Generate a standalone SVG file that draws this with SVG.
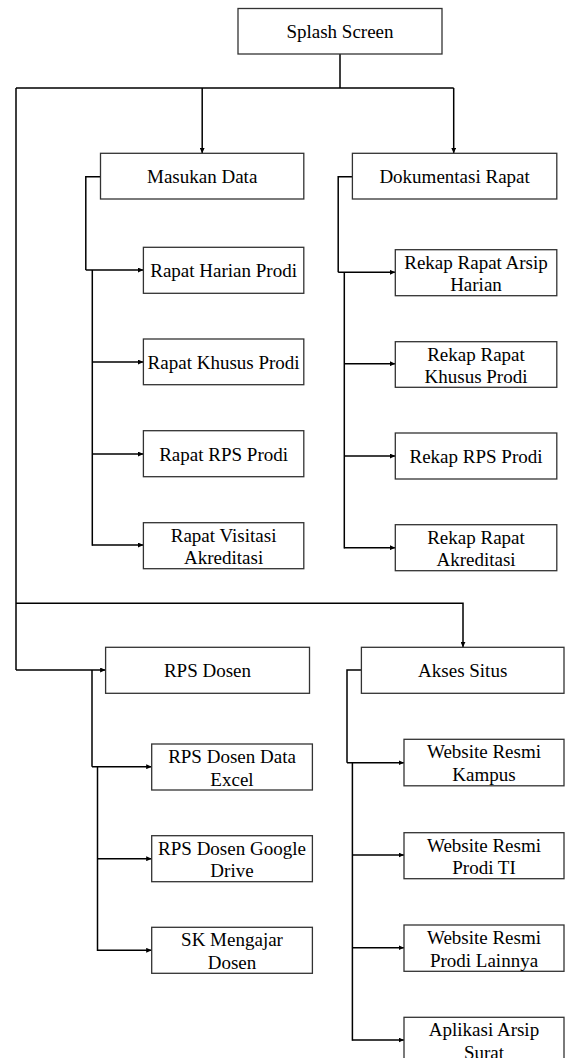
<svg xmlns="http://www.w3.org/2000/svg" width="565" height="1058" viewBox="0 0 565 1058">
  <style>
    .box rect { fill: #ffffff; stroke: #333333; stroke-width: 1.3; }
    .box text { font-family: "Liberation Serif", "Times New Roman", serif; font-size: 19px; fill: #000000; text-anchor: middle; }
    .wire { fill: none; stroke: #000000; stroke-width: 1.5; }
    .arrow { marker-end: url(#head); }
  </style>
  <defs>
    <marker id="head" markerUnits="userSpaceOnUse" markerWidth="6" markerHeight="5" refX="5.5" refY="2.5" orient="auto">
      <path d="M0,0 L5.5,2.5 L0,5 z" fill="#000000"/>
    </marker>
  </defs>

  <!-- connectors -->
  <g id="connectors">
    <!-- trunk from the splash screen -->
    <path class="wire" d="M340,54 V88 M16,88 H453.7 M16,88 V670"/>
    <path class="wire arrow" d="M202.2,88 V153.3"/>
    <path class="wire arrow" d="M453.7,88 V153.3"/>
    <path class="wire arrow" d="M16,603.3 H463 V647.3"/>
    <path class="wire arrow" d="M16,670 H105.6"/>

    <!-- Masukan Data branch -->
    <path class="wire" d="M100.5,176.7 H85.8 V270"/>
    <path class="wire arrow" d="M85.8,270 H143.4"/>
    <path class="wire" d="M92.3,270 V545.7"/>
    <path class="wire arrow" d="M92.3,362 H143.4"/>
    <path class="wire arrow" d="M92.3,454 H143.4"/>
    <path class="wire arrow" d="M92.3,545 H143.4"/>

    <!-- Dokumentasi Rapat branch -->
    <path class="wire" d="M352.4,176.7 H338.2 V272.3"/>
    <path class="wire arrow" d="M338.2,272.3 H395.3"/>
    <path class="wire" d="M344.3,272.3 V548.4"/>
    <path class="wire arrow" d="M344.3,363.7 H395.3"/>
    <path class="wire arrow" d="M344.3,456 H395.3"/>
    <path class="wire arrow" d="M344.3,547.7 H395.3"/>

    <!-- RPS Dosen branch -->
    <path class="wire" d="M92,670 V766.7"/>
    <path class="wire arrow" d="M92,766.7 H151.7"/>
    <path class="wire" d="M97.5,766.7 V951"/>
    <path class="wire arrow" d="M97.5,858.7 H151.7"/>
    <path class="wire arrow" d="M97.5,950.3 H151.7"/>

    <!-- Akses Situs branch -->
    <path class="wire" d="M361.4,670 H347 V762.7"/>
    <path class="wire arrow" d="M347,762.7 H404"/>
    <path class="wire" d="M352.4,762.7 V1040.7"/>
    <path class="wire arrow" d="M352.4,855 H404"/>
    <path class="wire arrow" d="M352.4,947.7 H404"/>
    <path class="wire arrow" d="M352.4,1040 H404"/>
  </g>

  <!-- nodes -->
  <g id="splash-screen" class="box">
    <rect x="238" y="8.5" width="204" height="45.5"/>
    <text x="340" y="37.5">Splash Screen</text>
  </g>

  <g id="masukan-data" class="box">
    <rect x="100.5" y="153.3" width="203.3" height="45.7"/>
    <text x="202.2" y="182.5">Masukan Data</text>
  </g>
  <g id="dokumentasi-rapat" class="box">
    <rect x="352.4" y="153.3" width="204.4" height="45.7"/>
    <text x="454.6" y="182.5">Dokumentasi Rapat</text>
  </g>

  <g id="rapat-harian-prodi" class="box">
    <rect x="143.4" y="247.3" width="160.4" height="46"/>
    <text x="223.6" y="277">Rapat Harian Prodi</text>
  </g>
  <g id="rapat-khusus-prodi" class="box">
    <rect x="143.4" y="339" width="160.4" height="45.7"/>
    <text x="223.6" y="368.5">Rapat Khusus Prodi</text>
  </g>
  <g id="rapat-rps-prodi" class="box">
    <rect x="143.4" y="430.7" width="160.4" height="46"/>
    <text x="223.6" y="460.5">Rapat RPS Prodi</text>
  </g>
  <g id="rapat-visitasi-akreditasi" class="box">
    <rect x="143.4" y="522.7" width="160.4" height="46"/>
    <text x="223.6" y="541.7">Rapat Visitasi</text>
    <text x="223.6" y="564.2">Akreditasi</text>
  </g>

  <g id="rekap-rapat-arsip-harian" class="box">
    <rect x="395.3" y="249.7" width="161.5" height="46"/>
    <text x="476" y="268.7">Rekap Rapat Arsip</text>
    <text x="476" y="291.2">Harian</text>
  </g>
  <g id="rekap-rapat-khusus-prodi" class="box">
    <rect x="395.3" y="341.7" width="161.5" height="45.6"/>
    <text x="476" y="360.7">Rekap Rapat</text>
    <text x="476" y="383.2">Khusus Prodi</text>
  </g>
  <g id="rekap-rps-prodi" class="box">
    <rect x="395.3" y="433" width="161.5" height="46"/>
    <text x="476" y="462.5">Rekap RPS Prodi</text>
  </g>
  <g id="rekap-rapat-akreditasi" class="box">
    <rect x="395.3" y="524.7" width="161.5" height="46"/>
    <text x="476" y="543.7">Rekap Rapat</text>
    <text x="476" y="566.2">Akreditasi</text>
  </g>

  <g id="rps-dosen" class="box">
    <rect x="105.6" y="647.3" width="203.9" height="46"/>
    <text x="207.5" y="676.8">RPS Dosen</text>
  </g>
  <g id="akses-situs" class="box">
    <rect x="361.4" y="647.3" width="202.6" height="46"/>
    <text x="462.7" y="676.8">Akses Situs</text>
  </g>

  <g id="rps-dosen-data-excel" class="box">
    <rect x="151.7" y="744" width="160.7" height="46"/>
    <text x="232" y="763">RPS Dosen Data</text>
    <text x="232" y="785.5">Excel</text>
  </g>
  <g id="rps-dosen-google-drive" class="box">
    <rect x="151.7" y="835.7" width="160.7" height="46"/>
    <text x="232" y="854.7">RPS Dosen Google</text>
    <text x="232" y="877.2">Drive</text>
  </g>
  <g id="sk-mengajar-dosen" class="box">
    <rect x="151.7" y="927.3" width="160.7" height="46"/>
    <text x="232" y="946.3">SK Mengajar</text>
    <text x="232" y="968.8">Dosen</text>
  </g>

  <g id="website-resmi-kampus" class="box">
    <rect x="404" y="739.3" width="160" height="46.5"/>
    <text x="484" y="758.3">Website Resmi</text>
    <text x="484" y="780.8">Kampus</text>
  </g>
  <g id="website-resmi-prodi-ti" class="box">
    <rect x="404" y="832.7" width="160" height="46"/>
    <text x="484" y="851.7">Website Resmi</text>
    <text x="484" y="874.2">Prodi TI</text>
  </g>
  <g id="website-resmi-prodi-lainnya" class="box">
    <rect x="404" y="925" width="160" height="46.3"/>
    <text x="484" y="944">Website Resmi</text>
    <text x="484" y="966.5">Prodi Lainnya</text>
  </g>
  <g id="aplikasi-arsip-surat" class="box">
    <rect x="404" y="1017.3" width="160" height="46"/>
    <text x="484" y="1036.3">Aplikasi Arsip</text>
    <text x="484" y="1059.3">Surat</text>
  </g>
</svg>
